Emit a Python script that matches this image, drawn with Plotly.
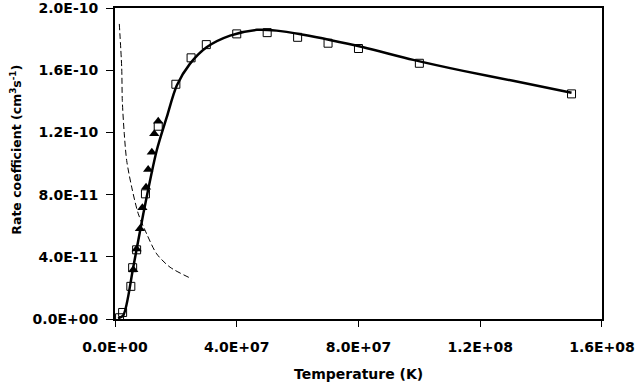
import plotly.graph_objects as go

# measured points (open squares)
sq_T = [1.5e6, 2.5e6, 5.2e6, 5.8e6, 7.1e6, 1.0e7, 1.42e7, 2.0e7, 2.5e7, 3.0e7,
        4.0e7, 5.0e7, 6.0e7, 7.0e7, 8.0e7, 1.0e8, 1.5e8]
sq_k = [0.8e-12, 4.2e-12, 21e-12, 33e-12, 44.5e-12, 80.5e-12, 124e-12, 151e-12,
        168e-12, 176.5e-12, 183.4e-12, 184.2e-12, 181.2e-12, 177.4e-12, 174e-12,
        164.5e-12, 144.8e-12]

# filled triangles
tri_T = [6.0e6, 7.1e6, 8.2e6, 9.0e6, 10.2e6, 10.9e6, 12.1e6, 12.9e6, 14.2e6]
tri_k = [31.6e-12, 45.1e-12, 58e-12, 71.5e-12, 84.8e-12, 96.1e-12, 107.3e-12,
         119.1e-12, 127.2e-12]

# fitted curve (solid)
fit_T = [1.0e6, 2.7e6, 6.0e6, 9.3e6, 13.7e6, 17.0e6, 20.3e6, 24.6e6, 30.1e6,
         37.8e6, 46.6e6, 53.1e6, 61.9e6, 70.6e6, 81.6e6, 98.0e6, 114.4e6,
         130.8e6, 150.0e6]
fit_k = [0.5e-12, 2.3e-12, 33.3e-12, 67.7e-12, 108.4e-12, 129.8e-12, 150.2e-12,
         164.1e-12, 174.8e-12, 182.3e-12, 186.0e-12, 185.5e-12, 182.8e-12,
         179.5e-12, 174.8e-12, 166.7e-12, 159.6e-12, 153.2e-12, 145.5e-12]

# other curve (dashed)
dash_T = [1.41e6, 2.2e6, 2.4e6, 3.05e6, 3.84e6, 5.49e6, 7.65e6, 10.4e6,
          13.7e6, 18.1e6, 25.2e6]
dash_k = [189.8e-12, 161.9e-12, 140.5e-12, 119.1e-12, 101.9e-12, 84.8e-12,
          67.7e-12, 54.8e-12, 41.9e-12, 33.3e-12, 25.9e-12]

x_ticks = [0, 4e7, 8e7, 1.2e8, 1.6e8]
x_labels = ["0.0E+00", "4.0E+07", "8.0E+07", "1.2E+08", "1.6E+08"]
y_ticks = [0, 4e-11, 8e-11, 1.2e-10, 1.6e-10, 2.0e-10]
y_labels = ["0.0E+00", "4.0E-11", "8.0E-11", "1.2E-10", "1.6E-10", "2.0E-10"]

fnt = dict(family="DejaVu Sans", size=14, color="black", weight="bold")

fig = go.Figure()
fig.add_trace(go.Scatter(x=dash_T, y=dash_k, mode="lines",
                         line=dict(color="black", width=1, dash="6px,3px",
                                   shape="spline", smoothing=0.8)))
fig.add_trace(go.Scatter(x=fit_T, y=fit_k, mode="lines",
                         line=dict(color="black", width=2.5,
                                   shape="spline", smoothing=0.8)))
fig.add_trace(go.Scatter(x=sq_T, y=sq_k, mode="markers",
                         marker=dict(symbol="square-open", size=8, color="black",
                                     line=dict(width=1))))
fig.add_trace(go.Scatter(x=tri_T, y=tri_k, mode="markers",
                         marker=dict(symbol="triangle-up", size=9, color="black")))

fig.update_layout(
    width=637, height=387,
    margin=dict(l=115, r=35, t=8, b=68),
    plot_bgcolor="white", paper_bgcolor="white",
    showlegend=False,
    xaxis=dict(range=[0, 1.6001e8], tickvals=x_ticks, ticktext=x_labels,
               showgrid=False, zeroline=False, showline=True, linecolor="black",
               linewidth=2, mirror=True, ticks="outside", ticklen=6,
               tickwidth=1, tickcolor="black", tickfont=fnt,
               ticklabelstandoff=8, automargin=False,
               ticklabeloverflow="allow"),
    yaxis=dict(range=[0, 2.0005e-10], tickvals=y_ticks, ticktext=y_labels,
               showgrid=False, zeroline=False, showline=True, linecolor="black",
               linewidth=2, mirror=True, ticks="outside", ticklen=7,
               tickwidth=1, tickcolor="black", tickfont=fnt,
               ticklabelstandoff=5, automargin=False,
               ticklabeloverflow="allow"),
    annotations=[
        dict(text="Temperature (K)", xref="paper", yref="paper",
             x=0.5, y=-0.178, xanchor="center", yanchor="middle",
             showarrow=False, font=fnt),
        dict(text="Rate coefficient (cm<sup>3</sup>s<sup>-1</sup>)",
             xref="paper", yref="paper", x=-0.205, y=0.545,
             xanchor="center", yanchor="middle", textangle=-90,
             showarrow=False, font=dict(fnt, size=12.5)),
    ],
)

fig.write_html("out.html", config={"displayModeBar": False},
               post_script="document.body.style.margin='0';")
